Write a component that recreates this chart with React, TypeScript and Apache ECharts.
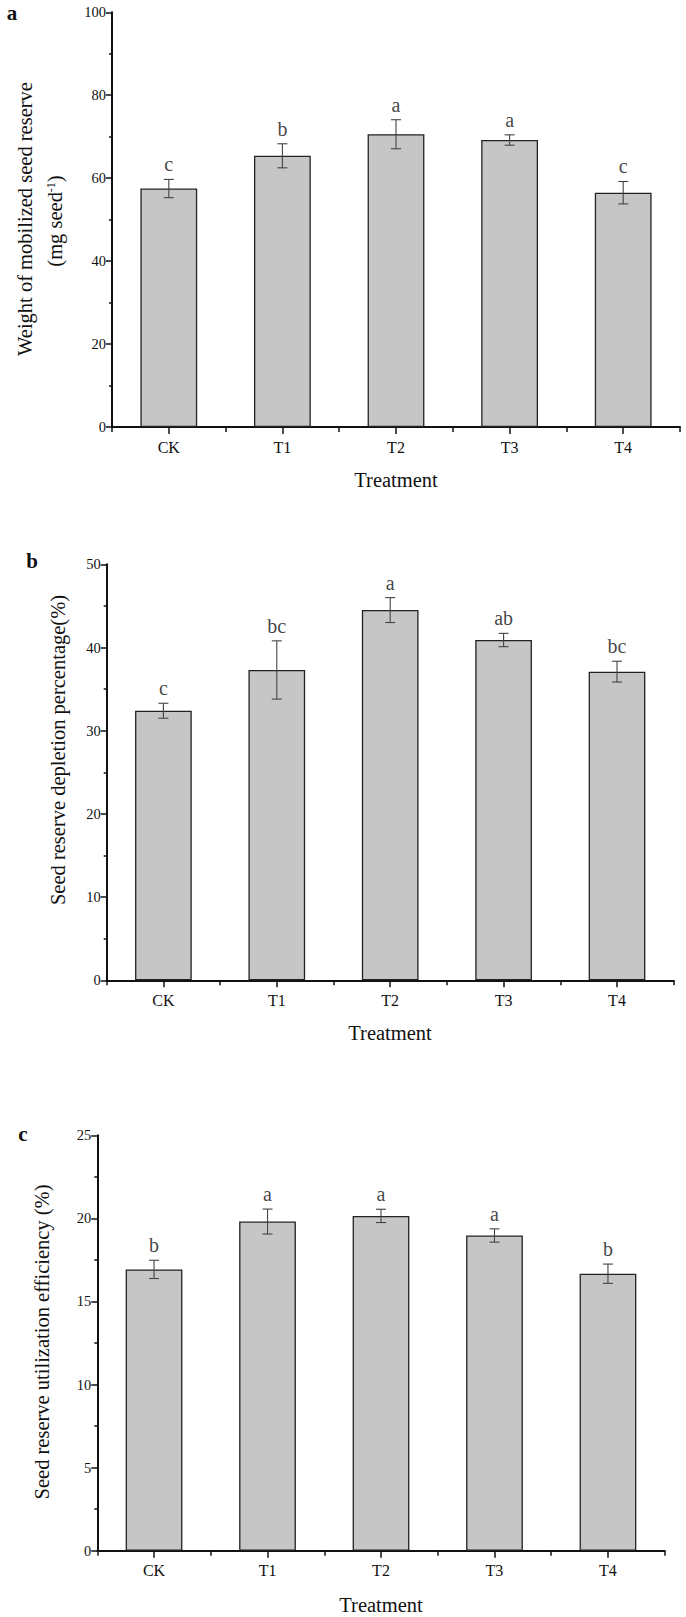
import React, { useEffect, useRef } from "react";
import * as echarts from "echarts";

const categories = ["CK", "T1", "T2", "T3", "T4"];

const weightMean = [57.5, 65.4, 70.6, 69.2, 56.5];
const weightErr = [2.2, 2.9, 3.5, 1.25, 2.7];
const weightLetters = ["c", "b", "a", "a", "c"];
const weightTicks = { min: 0, max: 100, interval: 20 };

const depletionMean = [32.4, 37.3, 44.5, 40.9, 37.1];
const depletionErr = [0.9, 3.5, 1.5, 0.8, 1.25];
const depletionLetters = ["c", "bc", "a", "ab", "bc"];
const depletionTicks = { min: 0, max: 50, interval: 10 };

const efficiencyMean = [16.93, 19.81, 20.15, 18.97, 16.67];
const efficiencyErr = [0.55, 0.75, 0.4, 0.4, 0.58];
const efficiencyLetters = ["b", "a", "a", "a", "b"];
const efficiencyTicks = { min: 0, max: 25, interval: 5 };

const FONT = "'Times New Roman', 'Liberation Serif', serif";

const panels = [
  {
    mean: weightMean, err: weightErr, letters: weightLetters, ticks: weightTicks,
    grid: { left: 112, top: 12.3, width: 568, height: 414.7 },
  },
  {
    mean: depletionMean, err: depletionErr, letters: depletionLetters, ticks: depletionTicks,
    grid: { left: 106.7, top: 564.3, width: 567, height: 416 },
  },
  {
    mean: efficiencyMean, err: efficiencyErr, letters: efficiencyLetters, ticks: efficiencyTicks,
    grid: { left: 97.3, top: 1135.3, width: 567.4, height: 415.4 },
  },
];

export default function App() {
  const ref = useRef<HTMLDivElement>(null);
  useEffect(() => {
    if (!ref.current) return;
    const chart = echarts.init(ref.current, undefined, { renderer: "svg" });
    const grid: any[] = [];
    const xAxis: any[] = [];
    const yAxis: any[] = [];
    const series: any[] = [];
    panels.forEach((p, i) => {
      grid.push({ ...p.grid, containLabel: false });
      xAxis.push({
        type: "category",
        data: categories,
        gridIndex: i,
        position: "bottom",
        axisLine: { show: true, lineStyle: { color: "#111", width: 2 } },
        axisTick: { show: true, alignWithLabel: false, length: 5, inside: false, lineStyle: { color: "#111", width: 1.5 } },
        axisLabel: { show: true, fontFamily: FONT, fontSize: 16, color: "#111", margin: 12 },
        splitLine: { show: false },
      });
      xAxis.push({
        type: "category",
        data: categories,
        gridIndex: i,
        position: "bottom",
        axisLine: { show: false },
        axisTick: { show: true, alignWithLabel: true, length: 7, lineStyle: { color: "#111", width: 1.5 } },
        axisLabel: { show: false },
        splitLine: { show: false },
      });
      yAxis.push({
        type: "value",
        gridIndex: i,
        min: p.ticks.min,
        max: p.ticks.max,
        interval: p.ticks.interval,
        axisLine: { show: true, lineStyle: { color: "#111", width: 2 } },
        axisTick: { show: true, length: 6, lineStyle: { color: "#111", width: 1.5 } },
        minorTick: { show: true, splitNumber: 2, length: 3, lineStyle: { color: "#111", width: 1.5 } },
        axisLabel: { fontFamily: FONT, fontSize: 14.5, color: "#111", margin: 6 },
        splitLine: { show: false },
      });
      series.push({
        type: "bar",
        xAxisIndex: 2 * i,
        yAxisIndex: i,
        data: p.mean,
        barWidth: "50%",
        itemStyle: { color: "#c6c6c6", borderColor: "#222", borderWidth: 1.3 },
        silent: true,
      });
      series.push({
        type: "custom",
        xAxisIndex: 2 * i,
        yAxisIndex: i,
        data: p.mean.map((m, k) => [k, m - p.err[k], m + p.err[k]]),
        encode: { x: 0, y: [1, 2] },
        renderItem: (params: any, api: any) => {
          const x = api.value(0);
          const lo = api.coord([x, api.value(1)]);
          const hi = api.coord([x, api.value(2)]);
          const hw = 5;
          const st = { stroke: "#444", lineWidth: 1.1 };
          return {
            type: "group",
            children: [
              { type: "line", shape: { x1: hi[0], y1: hi[1], x2: lo[0], y2: lo[1] }, style: st },
              { type: "line", shape: { x1: hi[0] - hw, y1: hi[1], x2: hi[0] + hw, y2: hi[1] }, style: st },
              { type: "line", shape: { x1: lo[0] - hw, y1: lo[1], x2: lo[0] + hw, y2: lo[1] }, style: st },
            ],
          };
        },
        z: 5,
        silent: true,
      });
      series.push({
        type: "scatter",
        xAxisIndex: 2 * i,
        yAxisIndex: i,
        symbolSize: 0,
        data: p.mean.map((m, k) => ({
          value: [k, m + p.err[k]],
          label: { formatter: p.letters[k] },
        })),
        label: {
          show: true,
          position: "top",
          distance: 5,
          fontFamily: FONT,
          fontSize: 20,
          color: "#111",
        },
        silent: true,
      });
    });

    const titleStyle = { fontFamily: FONT, fontSize: 20.5, fill: "#111", align: "center", verticalAlign: "middle" };
    const panelStyle = { fontFamily: FONT, fontSize: 21, fontWeight: "bold", fill: "#111", align: "center", verticalAlign: "middle" };
    const graphic: any[] = [
      { type: "text", x: 12, y: 13, style: { ...panelStyle, text: "a" } },
      { type: "text", x: 32, y: 561, style: { ...panelStyle, text: "b" } },
      { type: "text", x: 23, y: 1134, style: { ...panelStyle, text: "c" } },
      { type: "text", x: 25, y: 219, rotation: Math.PI / 2, style: { ...titleStyle, text: "Weight of mobilized seed reserve" } },
      {
        type: "text", x: 55, y: 221, rotation: Math.PI / 2,
        style: {
          ...titleStyle,
          text: "(mg seed{sup|-1})",
          rich: { sup: { fontFamily: FONT, fontSize: 12, verticalAlign: "top", fill: "#111" } },
        },
      },
      { type: "text", x: 58, y: 750, rotation: Math.PI / 2, style: { ...titleStyle, text: "Seed reserve depletion percentage(%)" } },
      { type: "text", x: 42, y: 1342, rotation: Math.PI / 2, style: { ...titleStyle, text: "Seed reserve utilization efficiency (%)" } },
      { type: "text", x: 396, y: 480, style: { ...titleStyle, text: "Treatment" } },
      { type: "text", x: 390, y: 1033, style: { ...titleStyle, text: "Treatment" } },
      { type: "text", x: 381, y: 1605, style: { ...titleStyle, text: "Treatment" } },
    ];

    chart.setOption({
      animation: false,
      backgroundColor: "#ffffff",
      grid,
      xAxis,
      yAxis,
      series,
      graphic,
    });
    return () => chart.dispose();
  }, []);
  return (
    <div
      ref={ref}
      style={{ position: "absolute", left: 0, top: 0, width: 686, height: 1617, background: "#fff" }}
    />
  );
}
